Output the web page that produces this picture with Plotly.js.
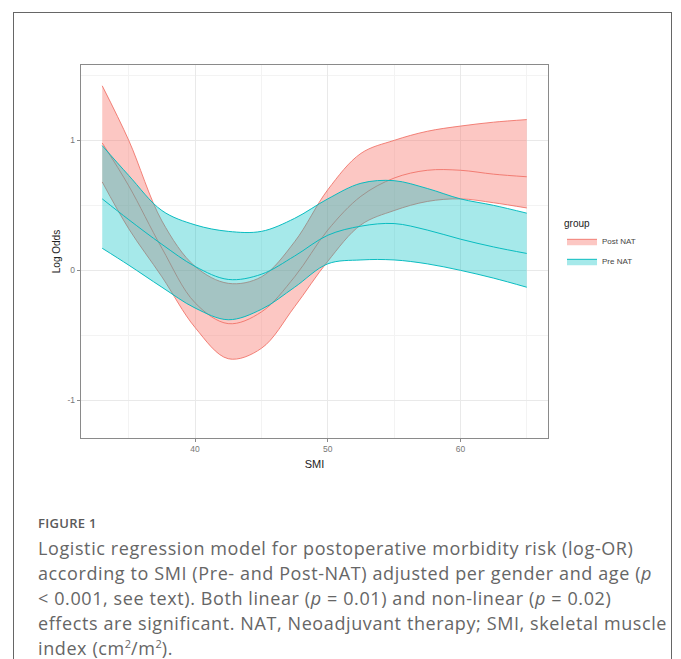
<!DOCTYPE html>
<html>
<head>
<meta charset="utf-8">
<script src="https://cdn.plot.ly/plotly-3.0.1.min.js"></script>
<style>
  html, body { margin: 0; padding: 0; background: #fff; width: 681px; height: 659px; overflow: hidden; }
  #frame { position: absolute; left: 13px; top: 12px; width: 657px; height: 660px;
           border: 1.5px solid #666; border-bottom: none; }
  #chart { position: absolute; left: 0; top: 0; width: 681px; height: 480px; }
  #fig { position: absolute; left: 38px; top: 514px; font-family: "Open Sans", sans-serif;
         font-size: 13px; font-weight: 600; color: #5a5a5a; letter-spacing: 0.3px; }
  #cap { position: absolute; left: 38px; top: 536px; font-family: "Open Sans", sans-serif;
         font-size: 18px; line-height: 25px; color: #666; white-space: nowrap; letter-spacing: 0.6px; }
  #cap sup { font-size: 11px; line-height: 0; vertical-align: 7px; letter-spacing: 0; }
</style>
</head>
<body>
<div id="frame"></div>
<div id="chart"></div>
<div id="fig">FIGURE 1</div>
<div id="cap">Logistic regression model for postoperative morbidity risk (log-OR)<br>according to SMI (Pre- and Post-NAT) adjusted per gender and age (<i>p</i><br>&lt; 0.001, see text). Both linear (<i>p</i> = 0.01) and non-linear (<i>p</i> = 0.02)<br>effects are significant. NAT, Neoadjuvant therapy; SMI, skeletal muscle<br>index (cm<sup>2</sup>/m<sup>2</sup>).</div>
<script>
// SMI values
const smi = [33, 35, 37.5, 40, 42.5, 45, 47.5, 50, 52.5, 55, 57.5, 60, 62.5, 65];
// Post NAT: fitted log odds and confidence band
const postFit   = [0.98, 0.65, 0.17, -0.25, -0.41, -0.32, -0.05, 0.31, 0.57, 0.71, 0.77, 0.77, 0.74, 0.72];
const postUpper = [1.42, 1.00, 0.38, 0.03, -0.10, -0.05, 0.22, 0.62, 0.90, 1.00, 1.07, 1.11, 1.14, 1.16];
const postLower = [0.68, 0.32, -0.05, -0.44, -0.68, -0.60, -0.28, 0.07, 0.35, 0.46, 0.53, 0.55, 0.52, 0.48];
// Pre NAT: fitted log odds and confidence band
const preFit   = [0.55, 0.39, 0.20, 0.03, -0.07, -0.03, 0.11, 0.27, 0.34, 0.36, 0.31, 0.24, 0.18, 0.13];
const preUpper = [0.96, 0.73, 0.46, 0.35, 0.30, 0.30, 0.40, 0.55, 0.67, 0.69, 0.63, 0.55, 0.50, 0.44];
const preLower = [0.17, 0.04, -0.13, -0.29, -0.38, -0.30, -0.13, 0.05, 0.08, 0.08, 0.05, 0.00, -0.06, -0.13];
// tick labels
const xTicks = [40, 50, 60];
const yTicks = [-1, 0, 1];
const groups = ["Post NAT", "Pre NAT"];

const pinkLine = "rgba(240,110,100,0.85)";
const pinkFill = "rgba(248,118,109,0.41)";
const cyanLine = "rgba(0,185,190,0.95)";
const cyanFill = "rgba(0,191,196,0.35)";
const ln = (c) => ({ color: c, width: 1, shape: "spline", smoothing: 1 });

const traces = [
  { x: smi, y: postLower, mode: "lines", line: ln(pinkLine), showlegend: false, legendgroup: "post", hoverinfo: "skip" },
  { x: smi, y: postUpper, mode: "lines", line: ln(pinkLine), fill: "tonexty", fillcolor: pinkFill,
    name: groups[0], legendgroup: "post", showlegend: true },
  { x: smi, y: postFit, mode: "lines", line: ln(pinkLine), showlegend: false, legendgroup: "post" },
  { x: smi, y: preLower, mode: "lines", line: ln(cyanLine), showlegend: false, legendgroup: "pre", hoverinfo: "skip" },
  { x: smi, y: preUpper, mode: "lines", line: ln(cyanLine), fill: "tonexty", fillcolor: cyanFill,
    name: groups[1], legendgroup: "pre", showlegend: true },
  { x: smi, y: preFit, mode: "lines", line: ln(cyanLine), showlegend: false, legendgroup: "pre" }
];

const axisCommon = {
  showline: true, mirror: true, linecolor: "#8a8a8a", linewidth: 1.2,
  ticks: "outside", ticklen: 3, tickcolor: "#8a8a8a", tickwidth: 1,
  gridcolor: "#e9e9e9", gridwidth: 1, zeroline: false,
  tickfont: { family: "Liberation Sans, Arial, sans-serif", size: 8.5, color: "#777" }
};

const layout = {
  width: 681, height: 480,
  margin: { l: 81, r: 133, t: 65, b: 42 },
  paper_bgcolor: "rgba(0,0,0,0)", plot_bgcolor: "#fff",
  xaxis: Object.assign({}, axisCommon, {
    range: [31.4, 66.6], tickvals: xTicks, ticktext: xTicks.map(String),
    minor: { dtick: 5, tick0: 35, showgrid: true, gridcolor: "#f3f3f3", ticks: "" },
    title: { text: "SMI", standoff: 6, font: { family: "Liberation Sans, Arial, sans-serif", size: 11, color: "#222" } }
  }),
  yaxis: Object.assign({}, axisCommon, {
    range: [-1.29, 1.58], tickvals: yTicks, ticktext: yTicks.map(String),
    minor: { dtick: 0.5, tick0: 0.5, showgrid: true, gridcolor: "#f3f3f3", ticks: "" },
    title: { text: "Log Odds", standoff: 5, font: { family: "Liberation Sans, Arial, sans-serif", size: 10, color: "#222" } }
  }),
  legend: {
    x: 1.03, xanchor: "left", y: 0.601, yanchor: "top",
    title: { text: "group", font: { family: "Liberation Sans, Arial, sans-serif", size: 10, color: "#222" } },
    font: { family: "Liberation Sans, Arial, sans-serif", size: 8, color: "#444" },
    itemwidth: 30, tracegroupgap: 1, bgcolor: "rgba(0,0,0,0)"
  },
  showlegend: true
};

Plotly.newPlot("chart", traces, layout, { staticPlot: true, displayModeBar: false });
</script>
</body>
</html>
